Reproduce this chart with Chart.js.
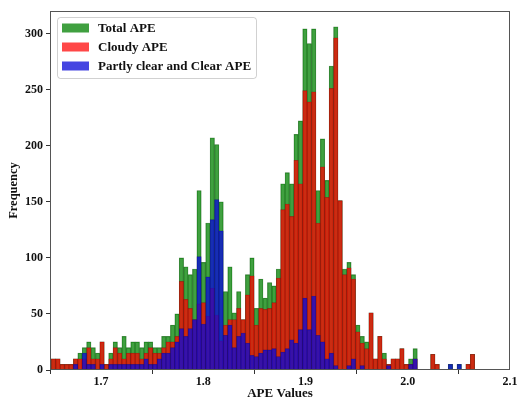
<!DOCTYPE html>
<html>
<head>
<meta charset="utf-8">
<title>APE histogram</title>
<script src="https://cdn.jsdelivr.net/npm/chart.js@4.4.0/dist/chart.umd.min.js"></script>
<style>
  html, body { margin: 0; padding: 0; background: #fff; }
  #wrap { width: 518px; height: 404px; }
</style>
</head>
<body>
<div id="wrap"><canvas id="apeChart" width="518" height="404"></canvas></div>
<script>
// histogram bins (96 bins)
var binStart = 1.6513;
var binWidth = 0.004314;

var totalAPE = [
  10, 10, 5, 5, 5, 10, 15, 20, 25, 20,
  15, 25, 5, 15, 25, 20, 30, 20, 25, 25,
  20, 25, 25, 20, 20, 30, 30, 40, 50, 100,
  92, 85, 90, 160, 96, 131, 207, 201, 150, 70,
  92, 51, 70, 45, 85, 100, 55, 81, 64, 78,
  75, 90, 166, 176, 166, 210, 222, 304, 291, 304,
  160, 206, 169, 271, 306, 151, 90, 96, 85, 40,
  30, 25, 51, 10, 30, 15, 5, 10, 10, 19,
  5, 10, 19, 0, 0, 0, 14, 5, 0, 0,
  5, 0, 5, 0, 5, 14
];
var cloudyAPE = [
  10, 10, 5, 5, 5, 10, 10, 10, 20, 10,
  10, 25, 5, 10, 20, 15, 10, 15, 15, 15,
  10, 15, 20, 15, 15, 20, 25, 25, 30, 79,
  63, 55, 45, 59, 60, 48, 73, 49, 26, 40,
  45, 45, 55, 45, 67, 84, 40, 55, 54, 55,
  60, 82, 143, 148, 137, 187, 166, 249, 239, 248,
  131, 181, 154, 251, 296, 151, 85, 91, 81, 34,
  24, 19, 51, 10, 30, 10, 5, 10, 10, 19,
  5, 5, 10, 0, 0, 0, 14, 5, 0, 0,
  0, 0, 0, 0, 5, 14
];
var clearAPE = [
  0, 0, 0, 0, 0, 5, 0, 15, 5, 5,
  0, 5, 0, 5, 5, 5, 5, 5, 5, 5,
  5, 10, 5, 5, 10, 15, 15, 20, 25, 37,
  30, 37, 45, 101, 41, 83, 134, 152, 124, 31,
  40, 20, 30, 33, 24, 13, 12, 15, 18, 18,
  19, 12, 16, 19, 27, 24, 36, 64, 36, 66,
  31, 25, 10, 15, 4, 0, 0, 4, 10, 0,
  4, 0, 0, 0, 0, 0, 4, 0, 0, 0,
  0, 5, 10, 0, 0, 0, 0, 0, 0, 0,
  5, 0, 5, 0, 0, 0
];

var seriesNames = ['Total APE', 'Cloudy APE', 'Partly clear and Clear APE'];
var seriesColors = ['rgba(0,128,0,0.75)', 'rgba(255,0,0,0.72)', 'rgba(10,10,215,0.76)'];
var edgeColors = ['rgba(0,70,0,0.6)', 'rgba(120,0,0,0.5)', 'rgba(0,0,110,0.5)'];
var xTicks = [1.7, 1.8, 1.9, 2.0, 2.1];
var yTicks = [0, 50, 100, 150, 200, 250, 300];

var serif = '"Liberation Serif", "Times New Roman", serif';

function toPoints(vals) {
  var pts = [];
  for (var i = 0; i < vals.length; i++) {
    pts.push({ x: binStart + binWidth * (i + 0.5), y: vals[i] });
  }
  return pts;
}

function histDataset(idx, vals) {
  return {
    label: seriesNames[idx],
    data: toPoints(vals),
    backgroundColor: seriesColors[idx],
    borderColor: edgeColors[idx],
    borderWidth: 0.5,
    grouped: false,
    barPercentage: 1,
    categoryPercentage: 1,
    order: 3 - idx   // total drawn first, clear on top
  };
}

// matplotlib style frame + legend box in the upper left
var framePlugin = {
  id: 'frame',
  afterDatasetsDraw: function (chart) {
    var a = chart.chartArea, ctx = chart.ctx;
    ctx.save();
    ctx.strokeStyle = '#555';
    ctx.lineWidth = 1;
    ctx.strokeRect(a.left + 0.5, a.top + 0.5, a.right - a.left - 1, a.bottom - a.top - 1);
    ctx.restore();
  },
  afterDraw: function (chart) {
    var ctx = chart.ctx;
    var ds = chart.data.datasets;
    var bx = 57, by = 17, bw = 199, bh = 61;
    ctx.save();
    ctx.beginPath();
    ctx.roundRect(bx + 0.5, by + 0.5, bw, bh, 3);
    ctx.fillStyle = 'rgba(255,255,255,0.8)';
    ctx.fill();
    ctx.strokeStyle = 'rgba(0,0,0,0.18)';
    ctx.lineWidth = 1;
    ctx.stroke();
    ctx.font = 'bold 13px ' + serif;
    ctx.textBaseline = 'middle';
    for (var i = 0; i < ds.length; i++) {
      var cy = 28 + i * 19;
      ctx.fillStyle = ds[i].backgroundColor;
      ctx.fillRect(62, cy - 4.5, 27, 9);
      ctx.fillStyle = '#111';
      ctx.fillText(ds[i].label, 98, cy + 0.5);
    }
    ctx.restore();
  }
};

var ctx = document.getElementById('apeChart');
var apeChart = new Chart(ctx, {
  type: 'bar',
  data: {
    datasets: [
      histDataset(0, totalAPE),
      histDataset(1, cloudyAPE),
      histDataset(2, clearAPE)
    ]
  },
  options: {
    responsive: false,
    devicePixelRatio: 1,
    animation: false,
    layout: { padding: { top: 11, right: 8, bottom: 0, left: 0 } },
    plugins: {
      legend: { display: false },
      tooltip: { enabled: false }
    },
    scales: {
      x: {
        type: 'linear',
        min: 1.65,
        max: 2.1,
        offset: false,
        afterBuildTicks: function (s) { s.ticks = xTicks.map(function (v) { return { value: v }; }); },
        afterFit: function (s) { s.height = 34; s.paddingLeft = 0; s.paddingRight = 0; },
        grid: { drawOnChartArea: false, drawTicks: true, tickLength: 4, color: '#333' },
        border: { display: false },
        ticks: {
          padding: 1,
          color: '#111',
          font: { family: serif, size: 12, weight: 'bold' },
          callback: function (v) { return Number(v).toFixed(1); }
        },
        title: {
          display: true,
          text: 'APE Values',
          color: '#111',
          font: { family: serif, size: 13, weight: 'bold' },
          padding: { top: 0, bottom: 3 }
        }
      },
      y: {
        min: 0,
        max: 320,
        afterBuildTicks: function (s) { s.ticks = yTicks.map(function (v) { return { value: v }; }); },
        afterFit: function (s) { s.width = 50; s.paddingTop = 0; s.paddingBottom = 0; },
        grid: { drawOnChartArea: false, drawTicks: true, tickLength: 4, color: '#333' },
        border: { display: false },
        ticks: {
          padding: 3,
          color: '#111',
          font: { family: serif, size: 12, weight: 'bold' }
        },
        title: {
          display: true,
          text: 'Frequency',
          color: '#111',
          font: { family: serif, size: 12.5, weight: 'bold' },
          padding: { top: 6, bottom: 0 }
        }
      }
    }
  },
  plugins: [framePlugin]
});
</script>
</body>
</html>
